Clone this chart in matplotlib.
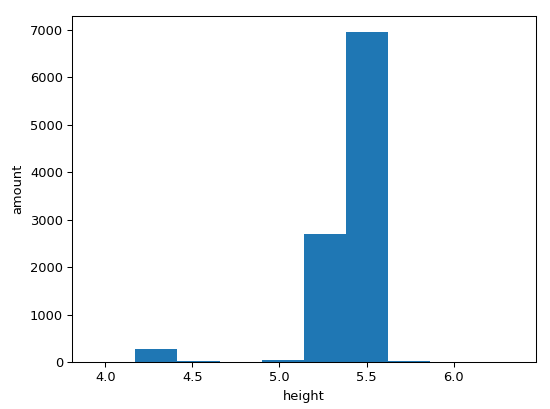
import matplotlib
matplotlib.use("Agg")
import matplotlib.pyplot as plt
import numpy as np

bin_edges = [3.93, 4.172, 4.414, 4.656, 4.898, 5.14, 5.382, 5.624, 5.866, 6.108, 6.35]
counts = [2, 287, 22, 0, 40, 2705, 6945, 35, 0, 3]

s = 0.936
plt.rcParams.update({
    "font.size": 10 * s,
    "axes.linewidth": 0.8 * s,
    "xtick.major.width": 0.8 * s,
    "ytick.major.width": 0.8 * s,
    "xtick.major.size": 3.5 * s,
    "ytick.major.size": 3.5 * s,
    "xtick.major.pad": 3.5 * s,
    "ytick.major.pad": 3.5 * s,
    "axes.labelpad": 4.0 * s,
})

edges = np.array(bin_edges)
centers = (edges[:-1] + edges[1:]) / 2

fig = plt.figure(figsize=(5.5, 4.09), dpi=100)
ax = fig.add_axes([0.131, 0.114, 0.843, 0.847])
ax.hist(centers, bins=edges, weights=counts)
ax.set_xlabel("height")
ax.set_ylabel("amount")
fig.savefig("out.png", dpi=100)
